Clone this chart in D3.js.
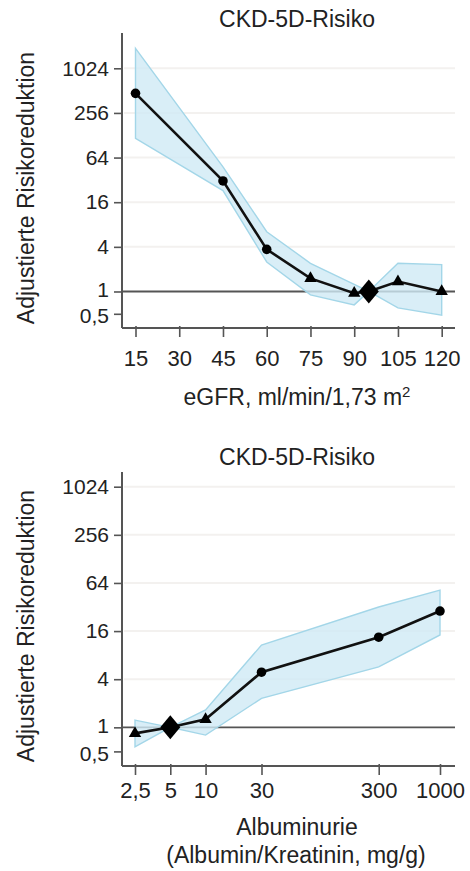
<!DOCTYPE html>
<html><head><meta charset="utf-8">
<script src="https://cdn.jsdelivr.net/npm/d3@7"></script>
<style>
body{margin:0;background:#fff}
svg{display:block}
text{font-family:"Liberation Sans",Arial,Helvetica,sans-serif;fill:#222}
</style>
</head><body>
<svg id="c" width="470" height="871"></svg>
<script>
// ---- Panel 1: eGFR ----
const eGFR = [15, 45, 60, 75, 90, 95, 105, 120];
const eGFRRisk = [470, 31, 3.7, 1.5, 0.95, 1, 1.36, 1.0];
const eGFRUpper = [1900, 48, 6.4, 2.4, 1.25, 1, 2.4, 2.3];
const eGFRLower = [116, 23, 2.5, 0.9, 0.66, 1, 0.6, 0.48];
const eGFRMarker = ["circle", "circle", "circle", "triangle", "triangle", "diamond", "triangle", "triangle"];
const eGFRTicks = [15, 30, 45, 60, 75, 90, 105, 120];
const eGFRTickLabels = ["15", "30", "45", "60", "75", "90", "105", "120"];

// ---- Panel 2: Albuminuria ----
const acr = [2.5, 5, 10, 30, 300, 1000];
const acrRisk = [0.84, 1, 1.26, 4.9, 13.4, 28.5];
const acrUpper = [1.23, 1, 1.65, 10.7, 32, 52];
const acrLower = [0.57, 1, 0.8, 2.3, 5.7, 14.3];
const acrMarker = ["triangle", "diamond", "triangle", "circle", "circle", "circle"];
const acrTicks = [2.5, 5, 10, 30, 300, 1000];
const acrTickLabels = ["2,5", "5", "10", "30", "300", "1000"];

// ---- shared ----
const yTicks = [0.5, 1, 4, 16, 64, 256, 1024];
const yTickLabels = ["0,5", "1", "4", "16", "64", "256", "1024"];
const gridTicks = [4, 16, 64, 256, 1024];
const titleText = "CKD-5D-Risiko";
const yTitleText = "Adjustierte Risikoreduktion";

const svg = d3.select("#c");

function drawPanel(cfg) {
  const g = svg.append("g");
  const x = cfg.xScale, y = cfg.yScale;
  const pts = cfg.xs.map((v, i) => ({x: v, r: cfg.risk[i], lo: cfg.lower[i], hi: cfg.upper[i], m: cfg.marker[i]}));

  // faint grid
  g.selectAll(".grid").data(gridTicks).join("line")
    .attr("x1", cfg.axisLeft + 2).attr("x2", cfg.axisRight)
    .attr("y1", d => y(d)).attr("y2", d => y(d))
    .attr("stroke", "#f3f1ef").attr("stroke-width", 2);

  // reference line at 1
  g.append("line")
    .attr("x1", cfg.axisLeft).attr("x2", cfg.axisRight)
    .attr("y1", y(1)).attr("y2", y(1))
    .attr("stroke", "#555").attr("stroke-width", 1.8);

  // confidence band
  const area = d3.area().x(d => x(d.x)).y0(d => y(d.lo)).y1(d => y(d.hi));
  g.append("path").datum(pts).attr("d", area)
    .attr("fill", "#cfeaf5").attr("fill-opacity", 0.8)
    .attr("stroke", "#a3d6e8").attr("stroke-width", 1.4);

  // axes
  const yAxis = d3.axisLeft(y).tickValues(yTicks).tickFormat((d, i) => yTickLabels[i]).tickSize(8).tickPadding(5);
  const ya = g.append("g").attr("transform", `translate(${cfg.axisLeft},0)`).call(yAxis);
  ya.select(".domain").remove();
  ya.selectAll("line").attr("stroke", "#555").attr("stroke-width", 1.6);
  ya.selectAll("text").attr("font-size", 21).attr("fill", "#222")
    .attr("dy", d => d === 0.5 ? "0.42em" : d === 1 ? "0.26em" : "0.32em")
    .style("font-family", '"Liberation Sans",Arial,sans-serif');

  const xAxis = d3.axisBottom(x).tickValues(cfg.xTicks).tickFormat((d, i) => cfg.xTickLabels[i]).tickSize(9).tickPadding(0);
  const xa = g.append("g").attr("transform", `translate(0,${cfg.axisBottom})`).call(xAxis);
  xa.select(".domain").remove();
  xa.selectAll("line").attr("stroke", "#555").attr("stroke-width", 1.6).attr("y1", -2);
  xa.selectAll("text").attr("font-size", 22).attr("fill", "#222").attr("dy", null)
    .attr("y", cfg.tickLabelY - cfg.axisBottom)
    .style("font-family", '"Liberation Sans",Arial,sans-serif');

  // axis lines
  g.append("line").attr("x1", cfg.axisLeft).attr("x2", cfg.axisLeft)
    .attr("y1", cfg.axisTop).attr("y2", cfg.axisBottom)
    .attr("stroke", "#555").attr("stroke-width", 2);
  g.append("line").attr("x1", cfg.axisLeft).attr("x2", cfg.axisRight)
    .attr("y1", cfg.axisBottom).attr("y2", cfg.axisBottom)
    .attr("stroke", "#555").attr("stroke-width", 2);

  // data line
  const line = d3.line().x(d => x(d.x)).y(d => y(d.r));
  g.append("path").datum(pts).attr("d", line)
    .attr("fill", "none").attr("stroke", "#111").attr("stroke-width", 2.6);

  // markers
  const circle = d3.symbol().type(d3.symbolCircle).size(72)();
  const tri = d3.symbol().type(d3.symbolTriangle).size(66)();
  const diamond = "M0,-12L10,0L0,12L-10,0Z";
  g.selectAll(".mk").data(pts).join("path")
    .attr("transform", d => `translate(${x(d.x)},${y(d.r)})`)
    .attr("d", d => d.m === "circle" ? circle : d.m === "triangle" ? tri : diamond)
    .attr("fill", "#000");

  // title
  g.append("text").attr("x", cfg.titleX).attr("y", cfg.titleY)
    .attr("text-anchor", "middle").attr("font-size", 23).text(titleText);

  // y title
  g.append("text").attr("transform", `translate(${cfg.yTitleX},${cfg.yTitleCenter}) rotate(-90)`)
    .attr("text-anchor", "middle").attr("font-size", 23).text(yTitleText);

  // x title
  cfg.xTitle(g);
}

drawPanel({
  xs: eGFR, risk: eGFRRisk, lower: eGFRLower, upper: eGFRUpper, marker: eGFRMarker,
  xTicks: eGFRTicks, xTickLabels: eGFRTickLabels,
  xScale: d3.scaleLinear().domain([15, 120]).range([135.5, 441.7]),
  yScale: d3.scaleLog().base(2).domain([0.5, 1024]).range([313.8, 68.3]),
  axisLeft: 122, axisRight: 455, axisTop: 33, axisBottom: 328,
  tickLabelY: 366, titleX: 297, titleY: 27, yTitleX: 34, yTitleCenter: 188,
  xTitle: g => {
    const t = g.append("text").attr("x", 297).attr("y", 405).attr("text-anchor", "middle").attr("font-size", 23);
    t.append("tspan").text("eGFR, ml/min/1,73 m");
    t.append("tspan").attr("font-size", 15).attr("dy", -8).text("2");
  }
});

drawPanel({
  xs: acr, risk: acrRisk, lower: acrLower, upper: acrUpper, marker: acrMarker,
  xTicks: acrTicks, xTickLabels: acrTickLabels,
  xScale: d3.scaleLog().domain([2.5, 1000]).range([135, 440]),
  yScale: d3.scaleLog().base(2).domain([0.5, 1024]).range([751.4, 486.7]),
  axisLeft: 122, axisRight: 455, axisTop: 472, axisBottom: 766,
  tickLabelY: 798, titleX: 297, titleY: 465, yTitleX: 34, yTitleCenter: 626,
  xTitle: g => {
    g.append("text").attr("x", 297).attr("y", 835).attr("text-anchor", "middle").attr("font-size", 23).text("Albuminurie");
    g.append("text").attr("x", 296).attr("y", 863).attr("text-anchor", "middle").attr("font-size", 23).text("(Albumin/Kreatinin, mg/g)");
  }
});
</script>
</body></html>
